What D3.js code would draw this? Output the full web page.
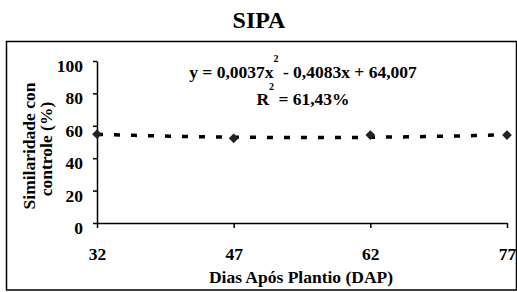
<!DOCTYPE html>
<html><head><meta charset="utf-8">
<script src="https://cdn.jsdelivr.net/npm/d3@7"></script>
<style>body{margin:0;background:#fff}svg{display:block}</style>
</head><body><svg id="c" width="517" height="292"></svg>
<script>
const days = [32, 47, 62, 77];
const similarity = [54.8, 52.3, 54.3, 54.3];
const yTicks = [0, 20, 40, 60, 80, 100];
const coef = [0.0037, -0.4083, 64.007];
const title = "SIPA";
const eqText = "y = 0,0037x";
const eqRest = " - 0,4083x + 64,007";
const r2Text = " = 61,43%";
const FONT = "'Liberation Serif'";
const FS = 17.5;

const svg = d3.select("#c");
const x = d3.scaleLinear().domain([32, 77]).range([97, 507]);
const y = d3.scaleLinear().domain([0, 100]).range([223, 61]);

svg.append("rect").attr("x", 6.5).attr("y", 41.5).attr("width", 510).attr("height", 248.5)
  .attr("fill", "none").attr("stroke", "#000").attr("stroke-width", 1.5);

function txt(sel, size) {
  return sel.attr("font-family", FONT).attr("font-size", size).attr("font-weight", "bold").attr("fill", "#000");
}

txt(svg.append("text"), 24).attr("x", 259).attr("y", 28).attr("text-anchor", "middle").text(title);

const yAx = svg.append("g").attr("transform", "translate(97,0)")
  .call(d3.axisLeft(y).tickValues(yTicks).tickSize(4).tickPadding(10).tickSizeOuter(0));
const xAx = svg.append("g").attr("transform", "translate(0,223)")
  .call(d3.axisBottom(x).tickValues(days).tickSize(5).tickPadding(20).tickSizeOuter(0));
[yAx, xAx].forEach(g => {
  txt(g, FS);
  g.selectAll("text").attr("font-family", FONT).attr("font-size", FS).attr("font-weight", "bold");
  g.select(".domain").attr("stroke", "#000").attr("stroke-width", 1.5);
  g.selectAll(".tick line").attr("stroke", "#000").attr("stroke-width", 1.5);
});
yAx.selectAll("text").attr("dy", "0.6em");

const trend = d3.range(32, 77.01, 0.5).map(d => [d, coef[0]*d*d + coef[1]*d + coef[2]]);
svg.append("path").datum(trend)
  .attr("d", d3.line().x(d => x(d[0])).y(d => y(d[1])))
  .attr("fill", "none").attr("stroke", "#000").attr("stroke-width", 3.5)
  .attr("stroke-dasharray", "6,11");

svg.selectAll(".pt").data(days).enter().append("path")
  .attr("transform", (d, i) => `translate(${x(d)},${y(similarity[i])})`)
  .attr("d", d3.symbol(d3.symbolDiamond2, 60)).attr("fill", "#222");

const eq = txt(svg.append("text"), FS).attr("x", 303).attr("y", 78).attr("text-anchor", "middle");
eq.append("tspan").text(eqText);
eq.append("tspan").attr("dy", -16).attr("font-size", 10).text("2");
eq.append("tspan").attr("dy", 16).text(eqRest);
const r2 = txt(svg.append("text"), FS).attr("x", 303).attr("y", 105).attr("text-anchor", "middle");
r2.append("tspan").text("R");
r2.append("tspan").attr("dy", -15).attr("font-size", 10).text("2");
r2.append("tspan").attr("dy", 15).text(r2Text);

txt(svg.append("text"), FS).attr("transform", "translate(35,146) rotate(-90)").attr("text-anchor", "middle")
  .text("Similaridade con");
txt(svg.append("text"), FS).attr("transform", "translate(52,149) rotate(-90)").attr("text-anchor", "middle")
  .text("controle (%)");

txt(svg.append("text"), FS).attr("x", 301).attr("y", 283).attr("text-anchor", "middle")
  .text("Dias Após Plantio (DAP)");
</script></body></html>
